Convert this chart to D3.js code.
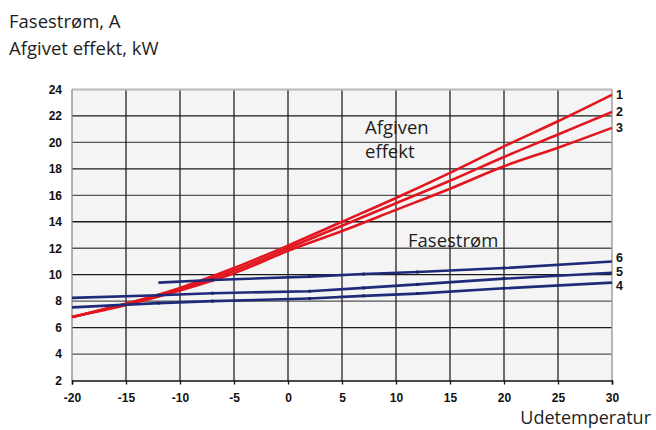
<!DOCTYPE html>
<html>
<head>
<meta charset="utf-8">
<script src="https://cdn.jsdelivr.net/npm/d3@7"></script>
<style>
  html, body { margin: 0; padding: 0; background: #fff; }
  svg { display: block; }
</style>
</head>
<body>
<svg id="chart" width="656" height="430"></svg>
<script>
// Udetemperatur, °C
const xTicks = [-20, -15, -10, -5, 0, 5, 10, 15, 20, 25, 30];
const yTicks = [2, 4, 6, 8, 10, 12, 14, 16, 18, 20, 22, 24];

// Afgivet effekt, kW (kurve 1–3)
const effektTemps = [-20, -15, -10, -5, 0, 5, 10, 15, 20, 25, 30];
const effekt1 = [6.8, 7.8, 9.0, 10.5, 12.2, 14.0, 15.8, 17.7, 19.7, 21.6, 23.6];
const effekt2 = [6.8, 7.8, 8.9, 10.3, 12.0, 13.7, 15.4, 17.1, 18.9, 20.6, 22.3];
const effekt3 = [6.8, 7.7, 8.8, 10.1, 11.8, 13.3, 14.9, 16.5, 18.2, 19.6, 21.1];

// Fasestrøm, A (kurve 4–6)
const stroemTemps = [-20, -12, -7, 2, 7, 12, 20, 30];
const stroem4 = [7.53, 7.85, 8.0, 8.2, 8.4, 8.57, 8.97, 9.4];
const stroem5 = [8.25, 8.45, 8.6, 8.75, 9.0, 9.27, 9.7, 10.15];
const stroem6Temps = [-12, -7, 2, 7, 12, 20, 30];
const stroem6 = [9.4, 9.6, 9.85, 10.05, 10.2, 10.5, 11.0];

const seriesNames = ["1", "2", "3", "4", "5", "6"];

const RED = "#e3161f";
const BLUE = "#1f2a78";

const svg = d3.select("#chart");
const margin = { left: 72, right: 44, top: 89.5, bottom: 49.5 };
const W = 656, H = 430;

const x = d3.scaleLinear().domain([-20, 30]).range([margin.left, W - margin.right]);
const y = d3.scaleLinear().domain([2, 24]).range([H - margin.bottom, margin.top]);

// plain hyphen-minus for negative tick values
const fmt = d => String(d);

// plot background
svg.append("rect")
  .attr("x", x(-20)).attr("y", y(24))
  .attr("width", x(30) - x(-20)).attr("height", y(2) - y(24))
  .attr("fill", "#f4f4f4");

// horizontal grid
svg.append("g")
  .selectAll("line")
  .data(yTicks.filter(v => v > 2 && v < 24))
  .join("line")
  .attr("x1", x(-20)).attr("x2", x(30))
  .attr("y1", d => y(d)).attr("y2", d => y(d))
  .attr("stroke", (d, i) => i % 2 === 0 ? "#555" : "#1a1a1a")
  .attr("stroke-width", 1.3);

// vertical grid
svg.append("g")
  .selectAll("line")
  .data(xTicks.filter(v => v > -20 && v < 30))
  .join("line")
  .attr("x1", d => x(d)).attr("x2", d => x(d))
  .attr("y1", y(24)).attr("y2", y(2))
  .attr("stroke", "#222")
  .attr("stroke-width", 1.3);

// frame
svg.append("line")
  .attr("x1", x(-20)).attr("x2", x(30)).attr("y1", y(24)).attr("y2", y(24))
  .attr("stroke", "#b8b8b8").attr("stroke-width", 2);
svg.append("line")
  .attr("x1", x(30)).attr("x2", x(30)).attr("y1", y(24)).attr("y2", y(2))
  .attr("stroke", "#a0a0a0").attr("stroke-width", 1.5);
svg.append("line")
  .attr("x1", x(-20)).attr("x2", x(-20)).attr("y1", y(24)).attr("y2", y(2))
  .attr("stroke", "#888").attr("stroke-width", 1.3);

// x axis
const xAxis = svg.append("g")
  .attr("transform", `translate(0,${y(2)})`)
  .call(d3.axisBottom(x).tickValues(xTicks).tickSize(4).tickPadding(9).tickFormat(fmt));
xAxis.select(".domain").attr("stroke", "#111").attr("stroke-width", 1.5);
xAxis.selectAll(".tick line").attr("stroke", "#111").attr("stroke-width", 1.3);
xAxis.selectAll("text")
  .attr("font-family", "'Liberation Sans', Arial, sans-serif")
  .attr("font-weight", "bold").attr("font-size", 12).attr("fill", "#111");

// y axis labels
const yAxis = svg.append("g")
  .attr("transform", `translate(${x(-20)},0)`)
  .call(d3.axisLeft(y).tickValues(yTicks).tickSize(0).tickPadding(10).tickFormat(fmt));
yAxis.select(".domain").remove();
yAxis.selectAll("text")
  .attr("font-family", "'Liberation Sans', Arial, sans-serif")
  .attr("font-weight", "bold").attr("font-size", 12).attr("fill", "#111");

const series = [
  { name: seriesNames[0], xs: effektTemps, ys: effekt1, color: RED, curve: d3.curveMonotoneX, marks: false },
  { name: seriesNames[1], xs: effektTemps, ys: effekt2, color: RED, curve: d3.curveMonotoneX, marks: false },
  { name: seriesNames[2], xs: effektTemps, ys: effekt3, color: RED, curve: d3.curveMonotoneX, marks: false },
  { name: seriesNames[3], xs: stroemTemps, ys: stroem4, color: BLUE, curve: d3.curveLinear, marks: true },
  { name: seriesNames[4], xs: stroemTemps, ys: stroem5, color: BLUE, curve: d3.curveLinear, marks: true },
  { name: seriesNames[5], xs: stroem6Temps, ys: stroem6, color: BLUE, curve: d3.curveLinear, marks: true }
];

const plot = svg.append("g");
series.forEach(s => {
  const pts = s.xs.map((t, i) => [t, s.ys[i]]);
  const line = d3.line().x(d => x(d[0])).y(d => y(d[1])).curve(s.curve);
  plot.append("path")
    .attr("d", line(pts))
    .attr("fill", "none")
    .attr("stroke", s.color)
    .attr("stroke-width", 2.6)
    .attr("stroke-linecap", "butt");
  if (s.marks) {
    plot.append("g")
      .selectAll("rect")
      .data(pts.slice(1, -1))
      .join("rect")
      .attr("x", d => x(d[0]) - 1.4).attr("y", d => y(d[1]) - 1.4)
      .attr("width", 2.8).attr("height", 2.8)
      .attr("fill", "#18225f");
  }
});

// end labels, nudged apart where curves end close together
const labelNudge = { "1": 0, "2": 0, "3": 0, "4": 3, "5": -1, "6": -4 };
svg.append("g")
  .selectAll("text")
  .data(series)
  .join("text")
  .attr("x", x(30) + 4)
  .attr("y", s => y(s.ys[s.ys.length - 1]) + labelNudge[s.name])
  .attr("dy", "0.36em")
  .attr("font-family", "'Liberation Sans', Arial, sans-serif")
  .attr("font-weight", "bold").attr("font-size", 12.5).attr("fill", "#111")
  .text(s => s.name);

// titles and annotations
const txt = (t, xx, yy, anchor, size) => svg.append("text")
  .attr("x", xx).attr("y", yy)
  .attr("text-anchor", anchor || "start")
  .attr("font-family", "'Open Sans', 'Noto Sans', sans-serif")
  .attr("font-size", size || 18.5).attr("fill", "#1e1e1e")
  .text(t);

txt("Fasestrøm, A", 9, 28);
txt("Afgivet effekt, kW", 9, 55);
txt("Afgiven", 365, 134);
txt("effekt", 365, 158);
txt("Fasestrøm", 408, 247);
txt("Udetemperatur", 651, 424, "end", 18);
</script>
</body>
</html>
